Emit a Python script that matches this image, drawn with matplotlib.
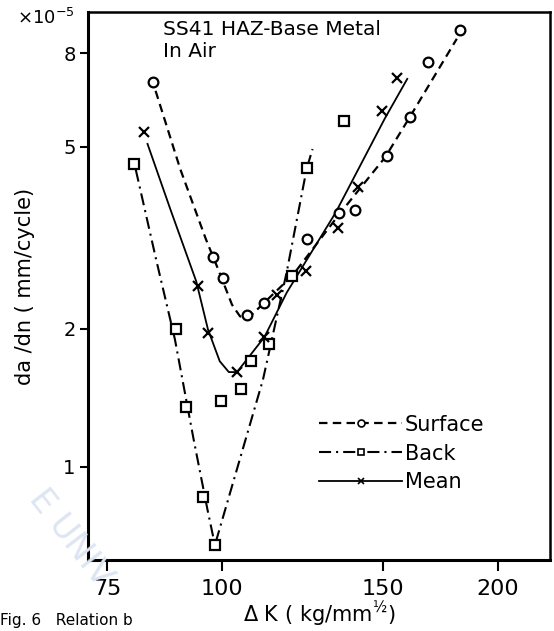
import matplotlib
matplotlib.use("Agg")
import matplotlib.pyplot as plt
from matplotlib.ticker import FixedLocator, NullLocator, FixedFormatter
from matplotlib.lines import Line2D

# measured points (dK in kg/mm^1.5, da/dn in 1e-5 mm/cycle)
surface_dk = [84.1, 97.9, 100.4, 106.6, 111.2, 123.9, 134.3, 139.8, 151.5, 160.3, 167.8, 182.0]
surface_rate = [6.92, 2.87, 2.58, 2.15, 2.28, 3.14, 3.58, 3.63, 4.77, 5.80, 7.66, 9.0]

back_dk = [80.2, 89.2, 91.4, 95.5, 98.3, 99.8, 105.0, 107.5, 112.7, 119.4, 123.8, 136.0]
back_rate = [4.58, 2.00, 1.35, 0.86, 0.675, 1.39, 1.48, 1.70, 1.85, 2.61, 4.49, 5.69]

mean_dk = [82.3, 94.3, 96.7, 103.9, 111.3, 114.8, 123.6, 134.0, 140.6, 149.5, 155.1]
mean_rate = [5.38, 2.48, 1.96, 1.61, 1.92, 2.37, 2.67, 3.33, 4.08, 5.98, 7.06]

# hand-drawn fit curves
surface_fit_dk = [84.7, 90.1, 96.1, 99.1, 102.6, 104.7, 107.1, 111.2, 119.5, 134.3, 150.7, 160.3, 180.4]
surface_fit_rate = [6.62, 4.47, 3.14, 2.70, 2.26, 2.13, 2.12, 2.28, 2.62, 3.56, 4.74, 5.80, 8.6]

back_fit_dk = [80.6, 84.8, 88.9, 93.2, 96.5, 98.3, 110.9, 117.7, 123.8, 125.6]
back_fit_rate = [4.45, 2.84, 1.90, 1.146, 0.805, 0.675, 1.55, 2.66, 4.49, 4.94]

mean_fit_dk = [83.0, 87.9, 93.8, 96.6, 99.5, 101.8, 103.9, 111.3, 117.7, 133.1, 150.5, 159.3]
mean_fit_rate = [5.07, 3.65, 2.54, 1.995, 1.70, 1.61, 1.61, 1.92, 2.40, 3.59, 5.75, 7.03]

xticks = [75, 100, 150, 200]
yticks = [1, 2, 5, 8]

dash_s = (0, (3.8, 2.4))
dash_b = (0, (5.8, 2.4, 1.0, 2.4))

fig = plt.figure(figsize=(5.54, 6.31), dpi=100)
ax = fig.add_axes([0.159, 0.1125, 0.834, 0.8685])

ax.set_xscale("log")
ax.set_yscale("log")
ax.set_xlim(71.5, 228)
ax.set_ylim(0.626, 9.84)

ax.plot(surface_fit_dk, surface_fit_rate, color="black", lw=1.6, linestyle=dash_s)
ax.plot(back_fit_dk, back_fit_rate, color="black", lw=1.5, linestyle=dash_b)
ax.plot(mean_fit_dk, mean_fit_rate, color="black", lw=1.3, linestyle="-")

ax.plot(surface_dk, surface_rate, "o", ms=7, mfc="white", mec="black", mew=1.6, lw=0)
ax.plot(back_dk, back_rate, "s", ms=6.5, mfc="white", mec="black", mew=1.6, lw=0)
ax.plot(mean_dk, mean_rate, "x", ms=7, mec="black", mew=1.6, lw=0)

ax.xaxis.set_major_locator(FixedLocator(xticks))
ax.xaxis.set_major_formatter(FixedFormatter([str(t) for t in xticks]))
ax.xaxis.set_minor_locator(NullLocator())
ax.yaxis.set_major_locator(FixedLocator(yticks))
ax.yaxis.set_major_formatter(FixedFormatter([str(t) for t in yticks]))
ax.yaxis.set_minor_locator(NullLocator())

ax.tick_params(axis="x", direction="out", length=8, width=1.5, labelsize=16, pad=6)
ax.tick_params(axis="y", direction="out", length=6, width=1.5, labelsize=14, pad=3)

for side in ["left", "bottom"]:
    ax.spines[side].set_linewidth(2.2)
for side in ["top", "right"]:
    ax.spines[side].set_linewidth(1.8)

ax.set_xlabel("Δ K ( kg/mm$^{½}$)", fontsize=15, labelpad=0)
ax.set_ylabel("da /dn ( mm/cycle)", fontsize=15, labelpad=20)

ax.text(0.162, 0.985, "SS41 HAZ-Base Metal\nIn Air", transform=ax.transAxes,
        fontsize=14.5, va="top", ha="left", linespacing=1.2)
fig.text(0.03, 0.988, "×10$^{-5}$", fontsize=13, va="top", ha="left")

handles = [
    Line2D([], [], color="black", lw=1.6, linestyle=dash_s, marker="o", ms=5, mfc="white", mew=1.2),
    Line2D([], [], color="black", lw=1.5, linestyle=dash_b, marker="s", ms=4.5, mfc="white", mew=1.2),
    Line2D([], [], color="black", lw=1.3, linestyle="-", marker="x", ms=5, mew=1.2),
]
ax.legend(handles, ["Surface", "Back", "Mean"], loc="upper left", bbox_to_anchor=(0.5, 0.265),
          frameon=False, fontsize=15, handlelength=4.0, handletextpad=0.1,
          labelspacing=0.42, borderpad=0, borderaxespad=0)

# faint stamp and caption from the scan
fig.text(0.04, 0.235, "E UNIV", fontsize=24, color="#dde5f3", rotation=-52,
         ha="left", va="top", zorder=0)
fig.text(0.0, 0.004, "Fig. 6   Relation b", fontsize=11, va="bottom", ha="left")

fig.savefig("out.png", dpi=100)
